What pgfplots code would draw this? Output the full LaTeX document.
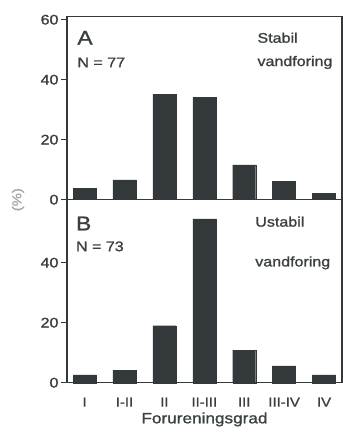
\documentclass[border=0pt]{standalone}
\usepackage{pgfplots}
\pgfplotsset{compat=1.18}
\usepackage{fontspec}
\setmainfont{Liberation Sans}[FakeStretch=1.15, FakeBold=1.2]
\definecolor{barc}{HTML}{33393B}
\definecolor{txt}{HTML}{3A4042}
\begin{document}
\begin{tikzpicture}
\path[use as bounding box] (-67bp,-54.3bp) rectangle (276bp,382.7bp);
\pgfplotsset{
 panel/.style={scale only axis, width=275bp, height=183bp,
  xmin=-0.44, xmax=6.45, ymin=0, ymax=61,
  tick align=outside, ytick pos=left, major tick length=6bp,
  axis line style={line width=1.4pt, color=barc},
  ytick style={line width=0.8pt, color=barc},
  ybar, bar width=23bp,
  /pgf/number format/assume math mode=true,
  yticklabel style={font=\fontsize{14}{14}\selectfont, color=txt, xshift=1bp},
  clip=false}
}
\begin{axis}[panel, name=bot, at={(0,0)}, anchor=south west,
  ytick={0,20,40}, xtick={0,...,6},
  xticklabels={I,I-II,II,II-III,III,III-IV,IV},
  xtick style={draw=none},
  xticklabel style={font=\fontsize{13}{13}\selectfont, color=txt, yshift=-5.5bp},
  xlabel={Forureningsgrad},
  xlabel style={font=\fontsize{15}{15}\selectfont, color=txt, yshift=1bp}]
\addplot[fill=barc, draw=barc] coordinates {(0,2.6) (1,4.2) (2,19.0) (3,54.6) (4,10.9) (5,5.6) (6,2.6)};
\node[anchor=west, font=\fontsize{20}{20}\selectfont, color=txt] at (rel axis cs:0.02,0.87) {B};
\node[anchor=west, font=\fontsize{14}{14}\selectfont, color=txt] at (rel axis cs:0.02,0.745) {N = 73};
\node[anchor=west, font=\fontsize{14}{14}\selectfont, color=txt] at (rel axis cs:0.672,0.88) {Ustabil};
\node[anchor=west, font=\fontsize{14}{14}\selectfont, color=txt] at (rel axis cs:0.672,0.655) {vandforing};
\end{axis}
\begin{axis}[panel, name=top, at={(0,183bp)}, anchor=south west,
  ytick={0,20,40,60}, xtick=\empty]
\addplot[fill=barc, draw=barc] coordinates {(0,3.7) (1,6.6) (2,35.1) (3,34.1) (4,11.6) (5,6.2) (6,2.2)};
\node[anchor=west, font=\fontsize{20}{20}\selectfont, color=txt] at (rel axis cs:0.025,0.885) {A};
\node[anchor=west, font=\fontsize{14}{14}\selectfont, color=txt] at (rel axis cs:0.025,0.75) {N = 77};
\node[anchor=west, font=\fontsize{14}{14}\selectfont, color=txt] at (rel axis cs:0.68,0.885) {Stabil};
\node[anchor=west, font=\fontsize{14}{14}\selectfont, color=txt] at (rel axis cs:0.68,0.75) {vandforing};
\end{axis}
\node[rotate=90, font=\fontsize{13}{13}\selectfont, color=gray!70] at ([xshift=-49bp]bot.north west) {(\%)};
\end{tikzpicture}
\end{document}
